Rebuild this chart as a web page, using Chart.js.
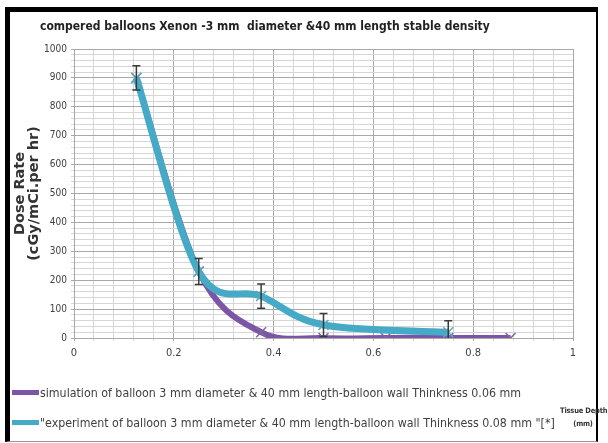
<!DOCTYPE html>
<html>
<head>
<meta charset="utf-8">
<script src="https://cdn.jsdelivr.net/npm/chart.js@4.4.1/dist/chart.umd.min.js"></script>
<style>
  html, body { margin: 0; padding: 0; background: #fff; }
  body { width: 608px; height: 443px; position: relative; overflow: hidden; }
  #frame {
    position: absolute; left: 5px; top: 7px; width: 593px; height: 435px;
    border-left: 5px solid #000; border-top: 5px solid #000; border-right: 2px solid #000;
    border-bottom: 1px solid #999; box-sizing: border-box;
  }
  #wrap { position: absolute; left: 10px; top: 12px; width: 590px; height: 430px; }
  .txt { position: absolute; font-family: 'Liberation Sans Narrow', 'DejaVu Sans Condensed', 'Liberation Sans', sans-serif; color: #404040; white-space: nowrap; }
  #title { left: 40px; top: 19px; font-size: 12px; font-weight: bold; color: #222; }
  .leg { left: 12px; font-size: 12.3px; height: 16px; line-height: 16px; }
  .leg span.sw { display: inline-block; width: 27px; height: 5px; vertical-align: middle; margin-right: 1px; position: relative; top: -1px; }
  #axisname { left: 560px; top: 404px; width: 46px; font-size: 7.5px; font-weight: bold; text-align: center; line-height: 13px; color: #333; letter-spacing: -0.2px; }
</style>
</head>
<body>
<div id="frame"></div>
<div id="wrap"><canvas id="doseChart" width="590" height="430"></canvas></div>
<div class="txt" id="title">compered balloons Xenon -3 mm&nbsp; diameter &amp;40 mm length stable density</div>
<div class="txt leg" id="leg0" style="top:385px;"></div>
<div class="txt leg" id="leg1" style="top:415px;"></div>
<div class="txt" id="axisname">Tissue Depth<br>(mm)</div>
<script>
// Dữ liệu
var depthSim = [0.125, 0.25, 0.375, 0.5, 0.625, 0.75, 0.875];
var doseSim = [900, 230, 20, 0, 0, 0, 0];
var depthExp = [0.125, 0.25, 0.375, 0.5, 0.75];
var doseExp = [900, 230, 145, 45, 20];
var errExp = [42, 45, 42, 40, 40];
var seriesNames = [
    'simulation of balloon 3 mm diameter & 40 mm length-balloon wall Thinkness 0.06 mm',
    '"experiment  of balloon 3 mm diameter & 40 mm length-balloon wall Thinkness 0.08 mm "[*]'
];
var yTitle = ['Dose Rate', '(cGy/mCi.per hr)'];

var PURPLE = '#7d55a6';
var CYAN = '#45aac6';
var NARROW = "'Liberation Sans Narrow', 'DejaVu Sans Condensed', 'Liberation Sans', sans-serif";

function toXY(xs, ys) {
    return xs.map(function (x, i) { return { x: x, y: ys[i] }; });
}

// Làm mượt kiểu Excel (Catmull-Rom) thay cho spline mặc định
var excelSmooth = {
    id: 'excelSmooth',
    beforeDatasetDraw: function (chart, args) {
        var meta = args.meta;
        if (!meta.dataset) return;
        meta.dataset.updateControlPoints(chart.chartArea, meta.iAxis);
        var pts = meta.data;
        pts.forEach(function (p, i) {
            var prev = pts[i - 1] || p;
            var next = pts[i + 1] || p;
            var dx = (next.x - prev.x) / 6;
            var dy = (next.y - prev.y) / 6;
            p.cp1x = p.x - dx; p.cp1y = p.y - dy;
            p.cp2x = p.x + dx; p.cp2y = p.y + dy;
        });
    }
};

// Vẽ thanh sai số cho chuỗi thực nghiệm
var errorBars = {
    id: 'errorBars',
    afterDatasetsDraw: function (chart) {
        var meta = chart.getDatasetMeta(1);
        var yScale = chart.scales.y;
        var ctx = chart.ctx;
        ctx.save();
        ctx.strokeStyle = '#3a3a3a';
        ctx.lineWidth = 1.5;
        meta.data.forEach(function (pt, i) {
            var top = yScale.getPixelForValue(doseExp[i] + errExp[i]);
            var bot = yScale.getPixelForValue(Math.max(0, doseExp[i] - errExp[i]));
            ctx.beginPath();
            ctx.moveTo(pt.x, top); ctx.lineTo(pt.x, bot);
            ctx.moveTo(pt.x - 4, top); ctx.lineTo(pt.x + 4, top);
            if (doseExp[i] - errExp[i] > 0) { ctx.moveTo(pt.x - 4, bot); ctx.lineTo(pt.x + 4, bot); }
            ctx.stroke();
        });
        ctx.restore();
    }
};

function isMajor(v, step) {
    return Math.abs(v / step - Math.round(v / step)) < 1e-6;
}

var config = {
    type: 'line',
    data: {
        datasets: [{
            label: seriesNames[0],
            data: toXY(depthSim, doseSim),
            borderColor: PURPLE,
            backgroundColor: PURPLE,
            borderWidth: 6,
            tension: 0.4,
            pointStyle: 'crossRot',
            pointRadius: 7,
            pointBorderWidth: 1.5,
            pointBorderColor: '#7c6b98',
            order: 1
        }, {
            label: seriesNames[1],
            data: toXY(depthExp, doseExp),
            borderColor: CYAN,
            backgroundColor: CYAN,
            borderWidth: 7,
            tension: 0.4,
            pointStyle: 'crossRot',
            pointRadius: 7,
            pointBorderWidth: 1.5,
            pointBorderColor: '#5aa9c0',
            order: 0
        }]
    },
    options: {
        responsive: false,
        animation: false,
        layout: { padding: { top: 37, right: 27, bottom: 74, left: 0 } },
        plugins: {
            legend: { display: false },
            tooltip: { enabled: false }
        },
        scales: {
            x: {
                type: 'linear',
                min: 0,
                max: 1,
                afterFit: function (s) { s.height = 30; },
                ticks: {
                    stepSize: 0.04,
                    autoSkip: false,
                    maxRotation: 0,
                    padding: 6,
                    color: '#404040',
                    font: { family: NARROW, size: 11 },
                    callback: function (v) { return isMajor(v, 0.2) ? String(Math.round(v * 10) / 10) : ''; }
                },
                grid: {
                    tickLength: 3,
                    color: function (c) { return c.tick && isMajor(c.tick.value, 0.2) ? '#a8a8a8' : '#d6d6d6'; }
                },
                border: { color: '#a8a8a8' }
            },
            y: {
                min: 0,
                max: 1000,
                afterFit: function (s) { s.width = 64; },
                title: {
                    display: true,
                    text: yTitle,
                    color: '#333',
                    padding: { top: 3, bottom: 0 },
                    font: { family: "'DejaVu Sans', sans-serif", size: 14.5, weight: 'bold', lineHeight: 0.97 }
                },
                ticks: {
                    stepSize: 20,
                    autoSkip: false,
                    padding: 4,
                    color: '#404040',
                    font: { family: NARROW, size: 10 },
                    callback: function (v) { return isMajor(v, 100) ? String(v) : ''; }
                },
                grid: {
                    tickLength: 3,
                    color: function (c) { return c.tick && isMajor(c.tick.value, 100) ? '#a8a8a8' : '#d6d6d6'; }
                },
                border: { color: '#a8a8a8' }
            }
        }
    },
    plugins: [excelSmooth, errorBars]
};

var doseChart = new Chart(document.getElementById('doseChart').getContext('2d'), config);

// Chú thích dạng HTML
config.data.datasets.forEach(function (ds, i) {
    document.getElementById('leg' + i).innerHTML =
        '<span class="sw" style="background:' + ds.borderColor + '"></span>' +
        ds.label.replace(/&/g, '&amp;').replace(/</g, '&lt;');
});
</script>
</body>
</html>
